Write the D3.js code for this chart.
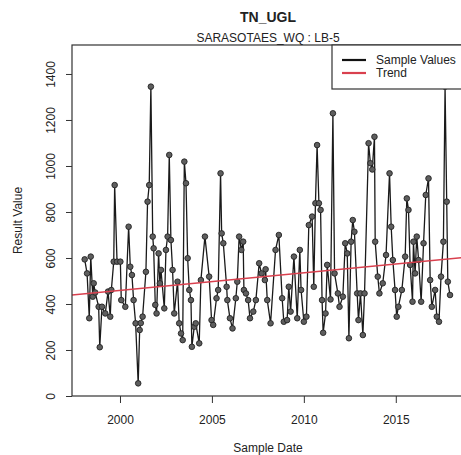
<!DOCTYPE html>
<html>
<head>
<meta charset="utf-8">
<script src="https://cdn.jsdelivr.net/npm/d3@7"></script>
<style>
  body { margin: 0; background: #fff; }
  text { font-family: 'Liberation Sans', Arial, sans-serif; fill: #222; }
</style>
</head>
<body>
<div id="chart"></div>
<script>
// sample dates as decimal years
const sampleYears = [
  1998.08, 1998.21, 1998.33, 1998.41, 1998.52, 1998.57, 1998.65, 1998.84, 1998.90, 1999.02,
  1999.20, 1999.35, 1999.47, 1999.53, 1999.66, 1999.71, 1999.84, 2000.02, 2000.07, 2000.29,
  2000.47, 2000.56, 2000.65, 2000.74, 2000.85, 2000.99, 2001.07, 2001.13, 2001.23, 2001.41,
  2001.50, 2001.59, 2001.68, 2001.78, 2001.83, 2001.92, 2001.99, 2002.10, 2002.17, 2002.23,
  2002.41, 2002.50, 2002.59, 2002.68, 2002.77, 2002.86, 2002.95, 2003.13, 2003.22, 2003.32,
  2003.41, 2003.50, 2003.59, 2003.68, 2003.77, 2003.86, 2003.91, 2004.04, 2004.12, 2004.31,
  2004.40, 2004.62, 2004.85, 2004.98, 2005.07, 2005.25, 2005.34, 2005.47, 2005.53, 2005.62,
  2005.80, 2005.84, 2005.98, 2006.12, 2006.30, 2006.38, 2006.48, 2006.60, 2006.70, 2006.74,
  2006.85, 2006.97, 2007.07, 2007.25, 2007.39, 2007.57, 2007.70, 2007.88, 2007.92, 2008.01,
  2008.19, 2008.46, 2008.64, 2008.82, 2008.91, 2009.09, 2009.18, 2009.28, 2009.46, 2009.64,
  2009.78, 2009.85, 2010.00, 2010.14, 2010.27, 2010.45, 2010.54, 2010.63, 2010.72, 2010.82,
  2010.91, 2010.99, 2011.05, 2011.18, 2011.27, 2011.45, 2011.58, 2011.67, 2011.85, 2011.94,
  2012.12, 2012.25, 2012.36, 2012.45, 2012.57, 2012.66, 2012.75, 2012.90, 2012.97, 2013.08,
  2013.21, 2013.30, 2013.52, 2013.62, 2013.72, 2013.84, 2013.88, 2014.02, 2014.11, 2014.29,
  2014.47, 2014.66, 2014.75, 2014.84, 2014.96, 2015.05, 2015.14, 2015.33, 2015.51, 2015.60,
  2015.69, 2015.78, 2015.91, 2015.96, 2016.05, 2016.14, 2016.24, 2016.38, 2016.51, 2016.63,
  2016.78, 2016.87, 2016.96, 2017.14, 2017.23, 2017.35, 2017.46, 2017.59, 2017.68, 2017.77,
  2017.83, 2017.95
]

const sampleValues = [
  594, 533, 338, 606, 432, 490, 450, 388, 212, 388,
  359, 454, 345, 461, 584, 917, 584, 584, 417, 388,
  736, 562, 526, 417, 316, 55, 287, 317, 345, 540,
  845, 917, 1345, 693, 642, 396, 359, 620, 490, 548,
  381, 635, 693, 1048, 678, 548, 359, 497, 316, 272,
  243, 1019, 925, 599, 461, 417, 214, 301, 316, 229,
  504, 693, 519, 330, 309, 425, 461, 968, 707, 664,
  475, 417, 338, 294, 425, 497, 693, 635, 671, 461,
  446, 417, 338, 367, 417, 577, 533, 504, 551, 417,
  316, 635, 700, 425, 323, 330, 475, 367, 606, 338,
  635, 461, 323, 345, 743, 780, 475, 838, 1091, 838,
  809, 417, 275, 359, 570, 420, 1229, 533, 446, 388,
  432, 664, 620, 251, 671, 765, 714, 446, 330, 446,
  265, 446, 1099, 1012, 985, 1127, 671, 519, 446, 490,
  613, 968, 736, 591, 461, 345, 388, 461, 606, 859,
  809, 570, 410, 671, 533, 693, 591, 410, 664, 874,
  946, 504, 388, 461, 345, 323, 519, 671, 1345, 845,
  497, 439
]

// linear trend, value at the two ends of the date range
const trendYears = [1997.39, 2018.71]
const trendValues = [439, 602]

const xTicks = [2000, 2005, 2010, 2015]
const yTicks = [0, 200, 400, 600, 800, 1000, 1200, 1400]

const legendLabels = ['Sample Values', 'Trend']
const legendColors = ['#111', '#d9404e']

const fullWidth = 461,
  fullHeight = 455,
  margin = { top: 45, right: -3, bottom: 59, left: 72 },
  width = fullWidth - margin.left - margin.right,
  height = fullHeight - margin.top - margin.bottom

const data = sampleYears.map((y, i) => ({ year: y, value: sampleValues[i] }))
const trend = trendYears.map((y, i) => ({ year: y, value: trendValues[i] }))

const svg = d3.select('#chart')
  .append('svg')
    .attr('width', fullWidth)
    .attr('height', fullHeight)

const g = svg.append('g')
  .attr('transform', `translate(${margin.left}, ${margin.top})`)

const xScale = d3.scaleLinear()
  .domain([1997.39, 2018.71])
  .range([0, width])

const yScale = d3.scaleLinear()
  .domain([0, 1526])
  .range([height, 0])

svg.append('defs').append('clipPath')
  .attr('id', 'plotclip')
  .append('rect')
    .attr('width', width)
    .attr('height', height)

// axes, R style
const xAxis = g.append('g')
  .attr('transform', `translate(0, ${height})`)
  .call(d3.axisBottom(xScale).tickValues(xTicks).tickFormat(d3.format('d')).tickSize(7).tickPadding(12))
xAxis.select('.domain').remove()
xAxis.selectAll('text').style('font-size', '12px').style('fill', '#222')
xAxis.selectAll('line').attr('stroke', '#333')

const yAxis = g.append('g')
  .call(d3.axisLeft(yScale).tickValues(yTicks).tickFormat(d3.format('d')).tickSize(6).tickPadding(0))
yAxis.select('.domain').remove()
yAxis.selectAll('line').attr('stroke', '#333')
yAxis.selectAll('text')
  .style('font-size', '12px')
  .style('fill', '#222')
  .attr('x', 0)
  .attr('dy', 0)
  .attr('text-anchor', 'middle')
  .attr('transform', 'translate(-17, 0) rotate(-90)')

const plot = g.append('g').attr('clip-path', 'url(#plotclip)')

const line = d3.line()
  .x(d => xScale(d.year))
  .y(d => yScale(d.value))

plot.append('path')
  .datum(data)
  .attr('d', line)
  .style('stroke', '#1a1a1a')
  .style('stroke-width', 1.3)
  .style('fill', 'none')

plot.selectAll('.pt')
  .data(data)
  .enter()
  .append('circle')
    .attr('class', 'pt')
    .attr('cx', d => xScale(d.year))
    .attr('cy', d => yScale(d.value))
    .attr('r', 2.8)
    .style('fill', '#5e5e5e')
    .style('stroke', '#222')
    .style('stroke-width', 0.9)

plot.append('path')
  .datum(trend)
  .attr('d', line)
  .style('stroke', legendColors[1])
  .style('stroke-width', 1.6)
  .style('fill', 'none')

// plot frame
g.append('rect')
  .attr('width', width)
  .attr('height', height)
  .style('fill', 'none')
  .style('stroke', '#333')
  .style('stroke-width', 1.2)

// legend, top right
const legend = g.append('g')
  .attr('transform', `translate(${width - 132}, 0)`)

legend.append('rect')
  .attr('width', 140)
  .attr('height', 44)
  .style('fill', '#fff')
  .style('stroke', '#333')
  .style('stroke-width', 1.2)

legendLabels.forEach((label, i) => {
  legend.append('line')
    .attr('x1', 10).attr('x2', 34)
    .attr('y1', 15 + i * 13).attr('y2', 15 + i * 13)
    .style('stroke', legendColors[i])
    .style('stroke-width', 2.2)
  legend.append('text')
    .attr('x', 44)
    .attr('y', 19 + i * 13)
    .style('font-size', '12px')
    .text(label)
})

// titles
const cx = margin.left + width / 2

svg.append('text')
  .attr('x', cx)
  .attr('y', 22)
  .attr('text-anchor', 'middle')
  .style('font-size', '14px')
  .style('font-weight', 'bold')
  .text('TN_UGL')

svg.append('text')
  .attr('x', cx)
  .attr('y', 42)
  .attr('text-anchor', 'middle')
  .style('font-size', '12px')
  .text('SARASOTAES_WQ : LB-5')

svg.append('text')
  .attr('x', cx)
  .attr('y', 452)
  .attr('text-anchor', 'middle')
  .style('font-size', '12px')
  .text('Sample Date')

svg.append('text')
  .attr('transform', `translate(22, ${margin.top + height / 2}) rotate(-90)`)
  .attr('text-anchor', 'middle')
  .style('font-size', '12px')
  .text('Result Value')
</script>
</body>
</html>
